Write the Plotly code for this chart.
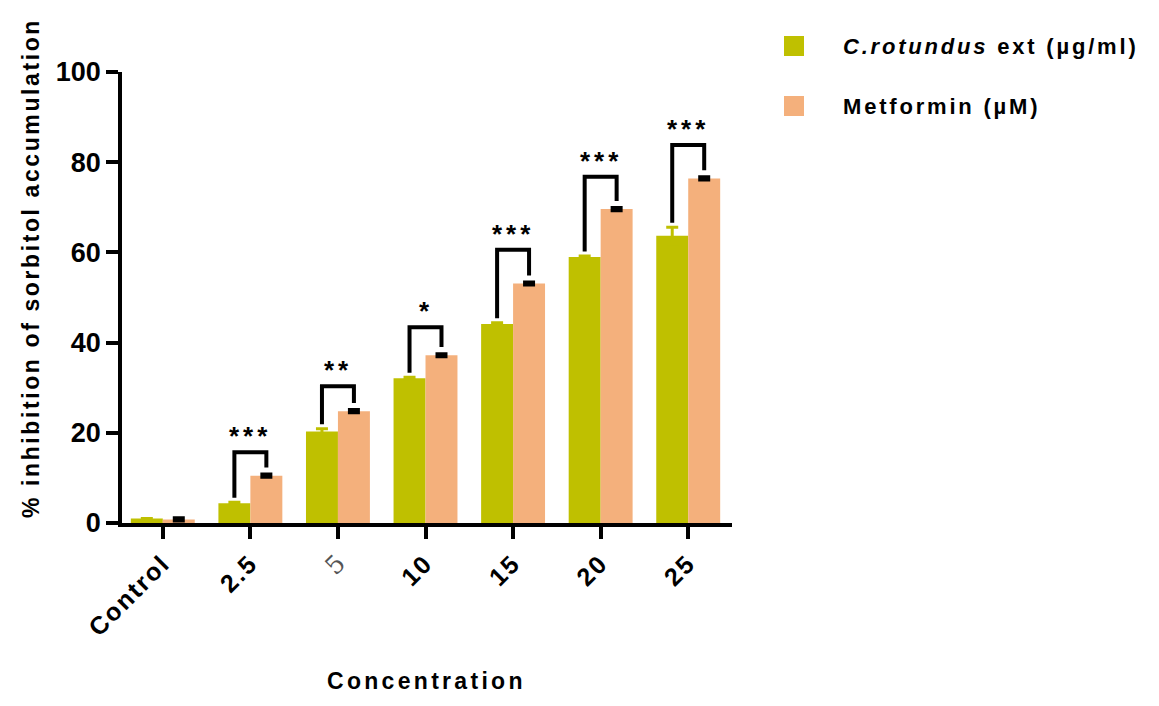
import plotly.graph_objects as go

categories = ["Control", "2.5", "5", "10", "15", "20", "25"]
extract = [1.0, 4.4, 20.3, 32.1, 44.1, 59.0, 63.7]
extract_err = [0.0, 0.2, 0.6, 0.2, 0.3, 0.2, 1.9]
metformin = [0.8, 10.5, 24.8, 37.2, 53.1, 69.6, 76.4]
metformin_err = [0.3, 0.3, 0.3, 0.3, 0.3, 0.3, 0.3]
sig_labels = ["", "***", "**", "*", "***", "***", "***"]
bracket_top = [None, 15.7, 30.3, 43.4, 60.6, 76.8, 83.8]
series_names = ["<i>C.rotundus</i> ext (\u00b5g/ml)", "Metformin (\u00b5M)"]

GREEN = "#BFC000"
ORANGE = "#F4B07C"
FONT = "Arial, Liberation Sans, sans-serif"

# page body has an 8px default margin; figure sized to fit the 1159x706 window
PAGE_OFF = 8
FIG_W, FIG_H = 1159 - 2 * PAGE_OFF, 706 - 2 * PAGE_OFF
# plot area edges in window pixels
L, R, T, B = 122, 732, 72, 523


def px(x):
    return (x - L) / (R - L)


def py(y):
    return (B - y) / (B - T)


def spaced(txt, sp):
    return f'<span style="letter-spacing:{sp}px">{txt}</span>'


xs = list(range(len(categories)))
tick_text = []
for c in categories:
    if c == "5":
        tick_text.append('<span style="font-family:DejaVu Serif;font-weight:normal;color:#555">5</span>')
    else:
        tick_text.append(spaced(c, 2))

fig = go.Figure()
fig.add_trace(go.Bar(
    x=xs, y=extract, name=series_names[0], showlegend=False,
    marker=dict(color=GREEN, line=dict(width=0)),
    error_y=dict(type="data", array=extract_err, color=GREEN, thickness=3, width=6),
))
fig.add_trace(go.Bar(
    x=xs, y=metformin, name=series_names[1], showlegend=False,
    marker=dict(color=ORANGE, line=dict(width=0)),
    error_y=dict(type="data", array=metformin_err, color="black", thickness=3.5, width=6),
))

bargap = 0.27
half = (1 - bargap) / 4
for i, lab in enumerate(sig_labels):
    if not lab:
        continue
    top = bracket_top[i]
    lb = extract[i] + extract_err[i] + 1.0
    rb = metformin[i] + metformin_err[i] + 1.5
    xl, xr = i - half, i + half
    fig.add_shape(type="path",
                  path=f"M {xl} {lb} L {xl} {top} L {xr} {top} L {xr} {rb}",
                  xref="x", yref="y", line=dict(color="black", width=4))
    fig.add_annotation(x=i, y=top - 0.2, text=spaced(lab, 4), showarrow=False,
                       xref="x", yref="y", yanchor="bottom",
                       font=dict(family=FONT, size=26, color="black", weight="bold"))

# axis titles
fig.add_annotation(text=spaced("% inhibition of sorbitol accumulation", 2.6),
                   xref="paper", yref="paper", x=px(31), y=py(268), textangle=-90,
                   xanchor="center", yanchor="middle",
                   showarrow=False, font=dict(family=FONT, size=23, color="black", weight="bold"))
fig.add_annotation(text=spaced("Concentration", 3.3),
                   xref="paper", yref="paper", x=px(426), y=py(681),
                   xanchor="center", yanchor="middle",
                   showarrow=False, font=dict(family=FONT, size=23, color="black", weight="bold"))

# legend (drawn manually)
leg_rows = [46, 106]
leg_cols = [GREEN, ORANGE]
for name, col, ry in zip(series_names, leg_cols, leg_rows):
    fig.add_shape(type="rect", xref="paper", yref="paper",
                  x0=px(784), x1=px(804), y0=py(ry - 10), y1=py(ry + 10),
                  fillcolor=col, line=dict(width=0))
    fig.add_annotation(text=spaced(name, 2.8), xref="paper", yref="paper",
                       x=px(841), y=py(ry), xanchor="left", yanchor="middle",
                       showarrow=False,
                       font=dict(family=FONT, size=22, color="black", weight="bold"))

fig.update_layout(
    width=FIG_W, height=FIG_H,
    margin=dict(l=L - PAGE_OFF, r=FIG_W - (R - PAGE_OFF), t=T - PAGE_OFF,
                b=FIG_H - (B - PAGE_OFF), autoexpand=False),
    paper_bgcolor="white", plot_bgcolor="white",
    barmode="group", bargap=bargap, bargroupgap=0,
    showlegend=False,
    font=dict(family=FONT, color="black"),
)
fig.update_xaxes(
    range=[-0.466, 6.5], tickvals=xs, ticktext=tick_text, tickangle=-45,
    showline=True, linecolor="black", linewidth=3.5,
    ticks="outside", ticklen=12, tickwidth=3.5, tickcolor="black",
    tickfont=dict(family=FONT, size=25, color="black", weight="bold"),
    showgrid=False, zeroline=False, automargin=False,
)
fig.update_yaxes(
    range=[0, 100], tickvals=[0, 20, 40, 60, 80, 100],
    showline=True, linecolor="black", linewidth=3.5,
    ticks="outside", ticklen=12, tickwidth=3.5, tickcolor="black",
    tickfont=dict(family=FONT, size=27, color="black", weight="bold"),
    showgrid=False, zeroline=False, automargin=False,
)

fig.write_html("out.html")
